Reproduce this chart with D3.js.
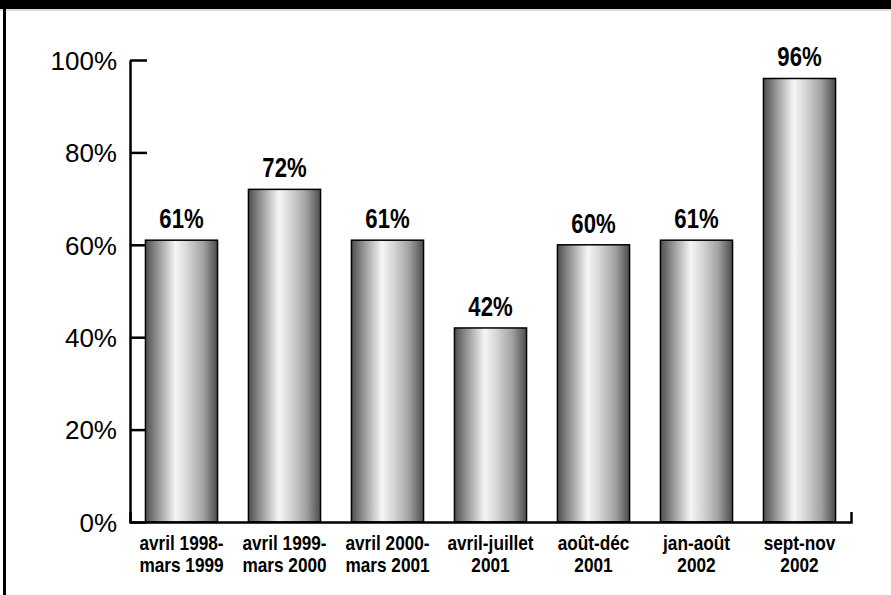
<!DOCTYPE html>
<html>
<head>
<meta charset="utf-8">
<script src="https://cdn.jsdelivr.net/npm/d3@7"></script>
<style>
  body { margin: 0; background: #fff; }
  svg { display: block; }
  .val { font-family: "Liberation Sans", Arial, sans-serif; font-weight: bold; font-size: 27px; }
  .xlab { font-family: "Liberation Sans", Arial, sans-serif; font-weight: bold; font-size: 21px; }
  .ylab { font-family: "Liberation Sans", Arial, sans-serif; font-size: 26px; }
</style>
</head>
<body>
<div id="chart"></div>
<script>
const width = 891;
const height = 595;
const narrow = 0.82; // squeeze text to look like a condensed face

// data
const labelsTop = ["avril 1998-", "avril 1999-", "avril 2000-", "avril-juillet", "août-déc", "jan-août", "sept-nov"];
const labelsBottom = ["mars 1999", "mars 2000", "mars 2001", "2001", "2001", "2002", "2002"];
const values = [61, 72, 61, 42, 60, 61, 96];
const yTicks = [0, 20, 40, 60, 80, 100];

const svg = d3
  .select("#chart")
  .append("svg")
  .attr("width", width)
  .attr("height", height);

// bar gradient
const grad = svg
  .append("defs")
  .append("linearGradient")
  .attr("id", "barGrad")
  .attr("x1", "0%")
  .attr("x2", "100%")
  .attr("y1", "0%")
  .attr("y2", "0%");
[
  [0, "#4e4e4e"],
  [0.15, "#8c8c8c"],
  [0.42, "#f6f6f6"],
  [0.58, "#d6d6d6"],
  [0.8, "#a2a2a2"],
  [1, "#4c4c4c"],
].forEach(function (s) {
  grad.append("stop").attr("offset", s[0]).attr("stop-color", s[1]);
});

// frame: black band at top, line on the left
svg.append("rect").attr("x", 0).attr("y", 0).attr("width", width).attr("height", 9).attr("fill", "#000");
svg.append("line").attr("x1", 0).attr("x2", width).attr("y1", 10).attr("y2", 10).attr("stroke", "#bbb");
svg.append("rect").attr("x", 3).attr("y", 0).attr("width", 3).attr("height", height).attr("fill", "#000");

const x = d3
  .scaleBand()
  .domain(d3.range(values.length))
  .range([130, 851])
  .paddingInner(0.3)
  .paddingOuter(0.15);

const y = d3.scaleLinear().domain([0, 100]).range([522, 60]);

// y axis, ticks pointing inward
const yAxis = svg
  .append("g")
  .attr("transform", "translate(130,0)")
  .call(
    d3
      .axisLeft(y)
      .tickValues(yTicks)
      .tickFormat((d) => d + "%")
      .tickSizeInner(-17)
      .tickSizeOuter(0)
      .tickPadding(13)
  );
yAxis.select(".domain").attr("stroke", "#000").attr("stroke-width", 2.5);
yAxis.selectAll(".tick line").attr("stroke", "#000").attr("stroke-width", 2.5);
yAxis
  .selectAll(".tick text")
  .attr("class", "ylab")
  .attr("font-family", null)
  .attr("font-size", null)
  .attr("fill", "#000")
  .attr("dy", "0.36em");

// bars
svg
  .selectAll("rect.bar")
  .data(values)
  .enter()
  .append("rect")
  .attr("class", "bar")
  .attr("x", (d, i) => x(i))
  .attr("y", (d) => y(d))
  .attr("width", x.bandwidth())
  .attr("height", (d) => y(0) - y(d))
  .attr("fill", "url(#barGrad)")
  .attr("stroke", "#000")
  .attr("stroke-width", 1.5);

// value labels
svg
  .selectAll("text.val")
  .data(values)
  .enter()
  .append("text")
  .attr("class", "val")
  .attr("transform", (d, i) =>
    "translate(" + (x(i) + x.bandwidth() / 2) + "," + (y(d) - 12) + ") scale(" + narrow + ",1)"
  )
  .attr("text-anchor", "middle")
  .text((d) => d + "%");

// x axis with small end tick on the right
const xAxis = svg
  .append("g")
  .attr("transform", "translate(0,522)")
  .call(d3.axisBottom(x).tickSizeInner(0).tickSizeOuter(-10).tickFormat(""));
xAxis.select(".domain").attr("stroke", "#000").attr("stroke-width", 2.5);

xAxis.selectAll(".tick text").remove();
xAxis.selectAll(".tick").each(function (d) {
  const t = d3
    .select(this)
    .append("text")
    .attr("class", "xlab")
    .attr("fill", "#000")
    .attr("text-anchor", "middle")
    .attr("transform", "scale(" + narrow + ",1)");
  t.append("tspan").attr("x", 0).attr("y", 28).text(labelsTop[d]);
  t.append("tspan").attr("x", 0).attr("y", 50).text(labelsBottom[d]);
});
</script>
</body>
</html>
